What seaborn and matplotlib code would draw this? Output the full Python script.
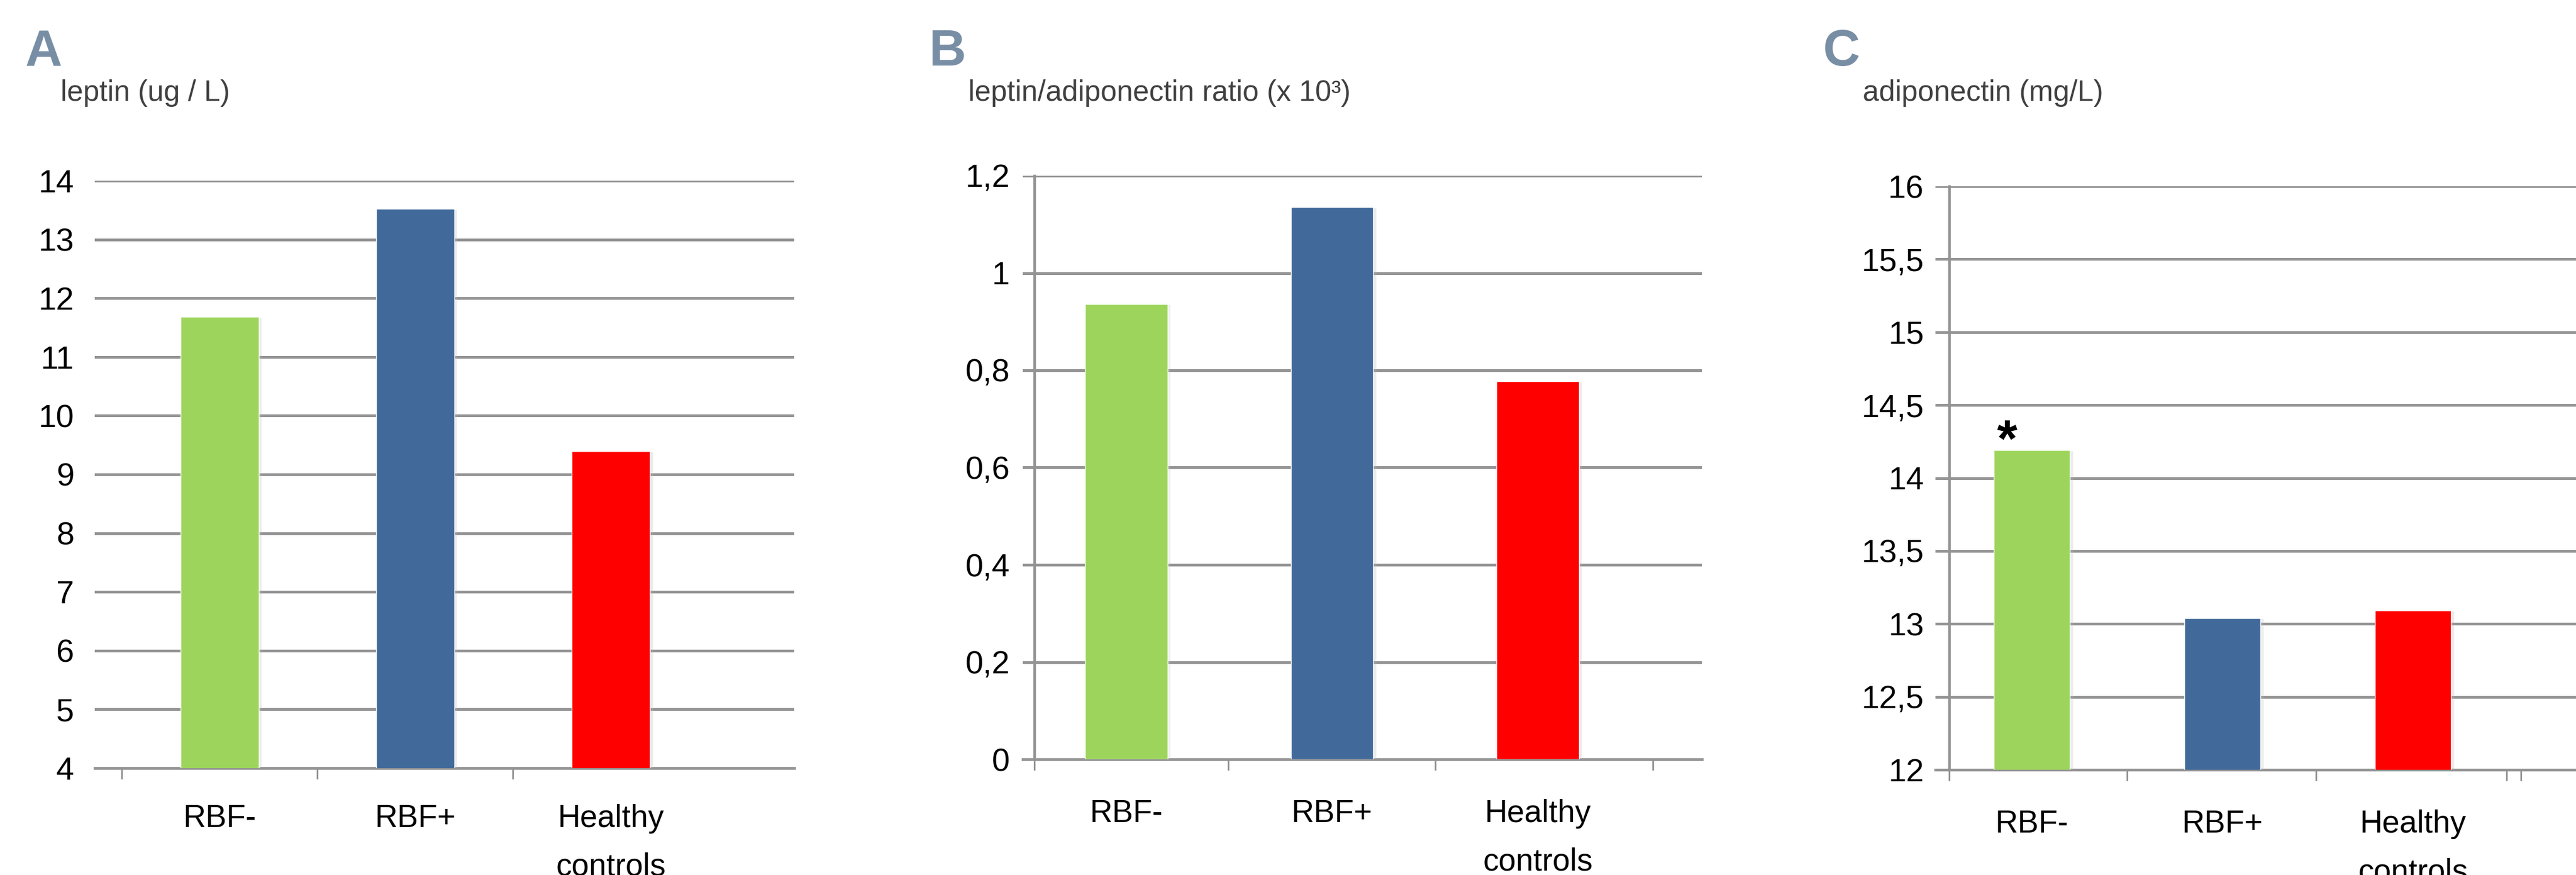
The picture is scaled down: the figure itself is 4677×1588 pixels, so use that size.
import numpy as np
import pandas as pd
import matplotlib
matplotlib.use('Agg')
import matplotlib.pyplot as plt
import matplotlib.patheffects as pe
from matplotlib.ticker import FixedLocator, FuncFormatter
import seaborn as sns

# values
groups = ['RBF-', 'RBF+', 'Healthy\ncontrols']
leptin = [11.68, 13.52, 9.39]
ratio = [0.936, 1.135, 0.777]
adiponectin = [14.19, 13.04, 13.09]
bar_colors = ['#9dd55c', '#416a9b', '#ff0000']

leptin_ticks = np.arange(4, 14.01, 1)
ratio_ticks = np.arange(0, 1.201, 0.2)
adipo_ticks = np.arange(12, 16.01, 0.5)

sns.set_style('white')
plt.rcParams['font.family'] = ['Liberation Sans', 'DejaVu Sans']

W, H = 4677, 1588
grid_c = '#939393'
fig = plt.figure(figsize=(W / 100, H / 100), dpi=100)


def px_rect(x0, x1, ytop, ybot):
    return [x0 / W, (H - ybot) / H, (x1 - x0) / W, (ybot - ytop) / H]


panels = [
    dict(letter='A', lx=46, title='leptin (ug / L)', tx=110,
         vals=leptin, ticks=leptin_ticks, ylim=(4, 14),
         rect=px_rect(172, 1442, 328, 1394), xlim=(-0.639, 2.938),
         spine=None, minor=[-0.5, 0.5, 1.5], ypad=27, xpad=47),
    dict(letter='B', lx=1687, title='leptin/adiponectin ratio (x 10³)', tx=1758,
         vals=ratio, ticks=ratio_ticks, ylim=(0, 1.2),
         rect=px_rect(1857, 3090, 319, 1378), xlim=(-0.503, 2.798),
         spine=-0.447, minor=[-0.447, 0.495, 1.502, 2.56], ypad=32, xpad=52),
    dict(letter='C', lx=3309, title='adiponectin (mg/L)', tx=3382,
         vals=adiponectin, ticks=adipo_ticks, ylim=(12, 16),
         rect=px_rect(3514, 4677, 338, 1397), xlim=(-0.506, 2.855),
         spine=-0.434, minor=[-0.434, 0.5, 1.49, 2.49, 2.566], ypad=33, xpad=52),
]

comma = FuncFormatter(lambda v, p: ('%g' % round(v, 3)).replace('.', ','))

axes = []
for p in panels:
    ax = fig.add_axes(p['rect'])
    df = pd.DataFrame({'group': groups, 'value': p['vals']})
    sns.barplot(data=df, x='group', y='value', hue='group', palette=bar_colors,
                width=0.4, saturation=1, legend=False, ax=ax, zorder=3)
    for bar in ax.patches:
        bar.set_path_effects([pe.SimplePatchShadow(offset=(4, -1), shadow_rgbFace='#bbbbbb', alpha=0.25),
                              pe.Normal()])
    ax.set_xlim(*p['xlim'])
    ax.set_ylim(*p['ylim'])
    ax.set_xlabel('')
    ax.set_ylabel('')
    ax.yaxis.set_major_locator(FixedLocator(p['ticks']))
    ax.yaxis.set_major_formatter(comma)
    ax.set_axisbelow(True)
    ax.grid(axis='y', color=grid_c, linewidth=3.6)
    ax.grid(axis='x', visible=False)
    for s in ['top', 'right']:
        ax.spines[s].set_visible(False)
    ax.spines['bottom'].set_color(grid_c)
    ax.spines['bottom'].set_linewidth(3.6)
    if p['spine'] is None:
        ax.spines['left'].set_visible(False)
    else:
        ax.spines['left'].set_position(('data', p['spine']))
        ax.spines['left'].set_color(grid_c)
        ax.spines['left'].set_linewidth(3.4)
        ax.spines['left'].set_zorder(4)
    ax.xaxis.set_minor_locator(FixedLocator(p['minor']))
    ax.tick_params(axis='x', which='minor', direction='out', length=14.5, width=2.2,
                   color=grid_c, bottom=True)
    ax.tick_params(axis='x', which='major', length=0, pad=p['xpad'], labelsize=41,
                   labelcolor='#000000')
    ax.tick_params(axis='y', length=0, pad=p['ypad'], labelsize=42, labelcolor='#000000')
    for lbl in ax.get_xticklabels():
        lbl.set_linespacing(1.8)
    fig.text(p['lx'] / W, (H - 119) / H, p['letter'], fontsize=67, fontweight='bold',
             color='#788ea5', ha='left', va='baseline')
    fig.text(p['tx'] / W, (H - 183) / H, p['title'], fontsize=38, color='#404040',
             ha='left', va='baseline')
    axes.append(ax)

# significance mark over RBF- in panel C
axes[2].text(-0.13, 14.15, '*', fontsize=68, fontweight='bold', color='#000000',
             ha='center', va='baseline', zorder=5)

fig.savefig('out.png', dpi=100, facecolor='white')
